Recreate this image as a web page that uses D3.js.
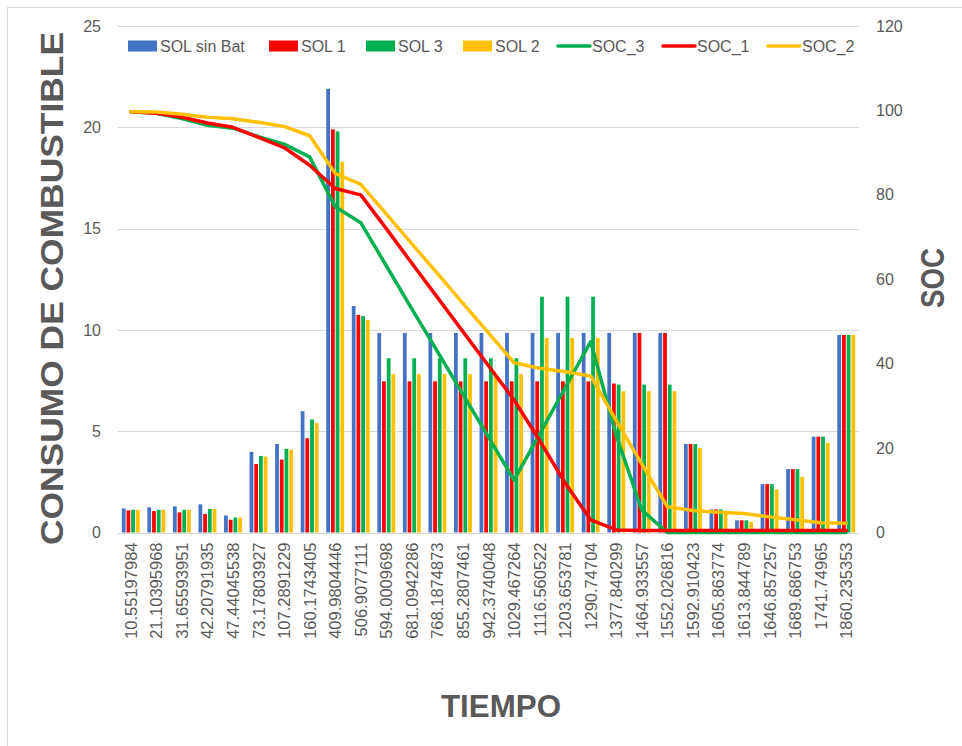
<!DOCTYPE html>
<html><head><meta charset="utf-8">
<script src="https://cdn.jsdelivr.net/npm/d3@7"></script>
<style>html,body{margin:0;padding:0;background:#fff;}svg{display:block;}</style>
</head><body>
<script>
const categories = ["10.55197984","21.10395968","31.65593951","42.20791935","47.44045538","73.17803927","107.2891229","160.1743405","409.9804446","506.9077111","594.0009698","681.0942286","768.1874873","855.2807461","942.3740048","1029.467264","1116.560522","1203.653781","1290.74704","1377.840299","1464.933557","1552.026816","1592.910423","1605.863774","1613.844789","1646.857257","1689.686753","1741.74965","1860.235353"];
const solSinBat = [1.19,1.24,1.29,1.39,0.84,3.98,4.37,5.99,21.9,11.18,9.85,9.85,9.85,9.85,9.85,9.85,9.85,9.85,9.85,9.85,9.85,9.85,4.37,1.14,0.6,2.39,3.13,4.73,9.75];
const sol1 = [1.09,1.06,0.99,0.91,0.63,3.38,3.6,4.65,19.9,10.74,7.46,7.46,7.46,7.46,7.46,7.46,7.46,7.46,7.46,7.35,9.85,9.85,4.37,1.14,0.6,2.39,3.13,4.73,9.75];
const sol3 = [1.12,1.12,1.12,1.16,0.74,3.78,4.13,5.58,19.8,10.68,8.6,8.6,8.6,8.6,8.6,8.6,11.64,11.64,11.64,7.3,7.3,7.3,4.37,1.14,0.6,2.39,3.13,4.73,9.75];
const sol2 = [1.12,1.12,1.12,1.16,0.74,3.75,4.08,5.4,18.3,10.49,7.82,7.82,7.82,7.82,7.82,7.82,9.6,9.6,9.6,6.97,6.97,6.97,4.17,1.0,0.53,2.13,2.74,4.42,9.75];
const soc3 = [99.7,99.3,98.1,96.5,95.8,93.8,92,89,77.2,73.4,63.2,53,42.9,32.7,22.6,12.4,23.3,34.3,45.2,23,5.3,0,0,0,0,0,0,0,0];
const soc1 = [99.7,99.3,98.4,97,96,93.6,91.2,87,81.5,80,72,63.8,55.7,47.6,39.5,31.4,21.8,11.7,3,0.6,0.5,0.5,0.5,0.5,0.5,0.5,0.5,0.5,0.5];
const soc2 = [99.7,99.6,99.1,98.4,98,97.2,96.2,94,85.1,82.5,75.5,68.4,61.4,54.3,47.3,40.2,38.9,38.1,37.1,26.5,16.2,6.1,5.2,4.8,4.5,3.7,3.0,2.3,2.2];
const leftTicks = [0,5,10,15,20,25];
const rightTicks = [0,20,40,60,80,100,120];

const barSeries = [
  {name:"SOL sin Bat", values:solSinBat, color:"#4472C4"},
  {name:"SOL 1", values:sol1, color:"#FF0000"},
  {name:"SOL 3", values:sol3, color:"#00B050"},
  {name:"SOL 2", values:sol2, color:"#FFC000"}
];
const lineSeries = [
  {name:"SOC_3", values:soc3, color:"#00B050"},
  {name:"SOC_1", values:soc1, color:"#FF0000"},
  {name:"SOC_2", values:soc2, color:"#FFC000"}
];

const W = 962, H = 746;
const X0 = 118, X1 = 859, Y0 = 532.5, Y1 = 26;
const textColor = "#595959", font = "'Liberation Sans', Arial, sans-serif";

const svg = d3.select("body").append("svg").attr("width", W).attr("height", H)
  .style("font-family", font);

svg.append("rect").attr("x",7.5).attr("y",7.5).attr("width",1100).attr("height",1000)
  .attr("fill","#fff").attr("stroke","#d9d9d9").attr("stroke-width",1);

const x = d3.scaleBand().domain(categories).range([X0, X1]).paddingInner(0).paddingOuter(0);
const yL = d3.scaleLinear().domain([0,25]).range([Y0, Y1]);
const yR = d3.scaleLinear().domain([0,120]).range([Y0, Y1]);
const bw = x.bandwidth();
const xs = d3.scaleBand().domain(barSeries.map(s=>s.name)).range([bw*0.15, bw*0.85]).paddingInner(0.2);

// gridlines
svg.append("g").selectAll("line").data(leftTicks).join("line")
  .attr("x1", X0).attr("x2", X1)
  .attr("y1", d=>Math.round(yL(d))+0.5).attr("y2", d=>Math.round(yL(d))+0.5)
  .attr("stroke","#d9d9d9").attr("stroke-width",1);

// left axis
const gL = svg.append("g").attr("transform", `translate(${X0-17},0)`)
  .call(d3.axisLeft(yL).tickValues(leftTicks).tickSize(0).tickPadding(0));
gL.select(".domain").remove();
gL.selectAll("text").attr("fill", textColor).style("font-size","16px").style("font-family",font);

// right axis
const gR = svg.append("g").attr("transform", `translate(${X1+17},0)`)
  .call(d3.axisRight(yR).tickValues(rightTicks).tickSize(0).tickPadding(0));
gR.select(".domain").remove();
gR.selectAll("text").attr("fill", textColor).style("font-size","16px").style("font-family",font);

// bottom axis labels
const gB = svg.append("g").attr("transform", `translate(0,${Y0+10})`)
  .call(d3.axisBottom(x).tickSize(0).tickPadding(0));
gB.select(".domain").remove();
gB.selectAll("text")
  .attr("fill", textColor).style("font-size","16.5px").style("font-family",font)
  .attr("text-anchor","end").attr("dy",null).attr("y",0)
  .attr("transform","rotate(-90) translate(0,6)");

// bars
barSeries.forEach(s => {
  svg.append("g").selectAll("rect").data(s.values).join("rect")
    .attr("x", (d,i)=> x(categories[i]) + xs(s.name))
    .attr("width", xs.bandwidth())
    .attr("y", d=>yL(d)).attr("height", d=>Y0 - yL(d))
    .attr("fill", s.color);
});

// lines
const line = d3.line().x((d,i)=>x(categories[i]) + bw/2).y(d=>yR(d));
lineSeries.forEach(s => {
  svg.append("path").datum(s.values).attr("d", line)
    .attr("fill","none").attr("stroke", s.color).attr("stroke-width",3.5)
    .attr("stroke-linejoin","round").attr("stroke-linecap","round");
});

// legend
const legendItems = [
  {s:barSeries[0], x:128, type:"bar"},
  {s:barSeries[1], x:269, type:"bar"},
  {s:barSeries[2], x:366, type:"bar"},
  {s:barSeries[3], x:463, type:"bar"},
  {s:lineSeries[0], x:558, type:"line"},
  {s:lineSeries[1], x:663, type:"line"},
  {s:lineSeries[2], x:768, type:"line"}
];
const ly = 46;
legendItems.forEach(it => {
  if (it.type === "bar") {
    svg.append("rect").attr("x", it.x).attr("y", ly-5.5).attr("width", 29).attr("height", 11).attr("fill", it.s.color);
    svg.append("text").attr("x", it.x+32).attr("y", ly).attr("dy","0.35em")
      .attr("fill", textColor).style("font-size","16px").text(it.s.name);
  } else {
    svg.append("line").attr("x1", it.x).attr("x2", it.x+32).attr("y1", ly).attr("y2", ly)
      .attr("stroke", it.s.color).attr("stroke-width",3.5).attr("stroke-linecap","round");
    svg.append("text").attr("x", it.x+34).attr("y", ly).attr("dy","0.35em")
      .attr("fill", textColor).style("font-size","16px").text(it.s.name);
  }
});

// axis titles
svg.append("text").attr("transform","translate(63,288.5) rotate(-90)")
  .attr("text-anchor","middle").attr("fill", textColor)
  .style("font-size","32px").style("font-weight","bold")
  .attr("textLength",513).attr("lengthAdjust","spacingAndGlyphs")
  .text("CONSUMO DE COMBUSTIBLE");
svg.append("text").attr("transform","translate(944,278) rotate(-90)")
  .attr("text-anchor","middle").attr("fill", textColor)
  .style("font-size","34px").style("font-weight","bold")
  .attr("textLength",60).attr("lengthAdjust","spacingAndGlyphs")
  .text("SOC");
svg.append("text").attr("x", 501).attr("y", 717)
  .attr("text-anchor","middle").attr("fill", textColor)
  .style("font-size","31px").style("font-weight","bold")
  .attr("textLength",120).attr("lengthAdjust","spacingAndGlyphs")
  .text("TIEMPO");
</script>
</body></html>
